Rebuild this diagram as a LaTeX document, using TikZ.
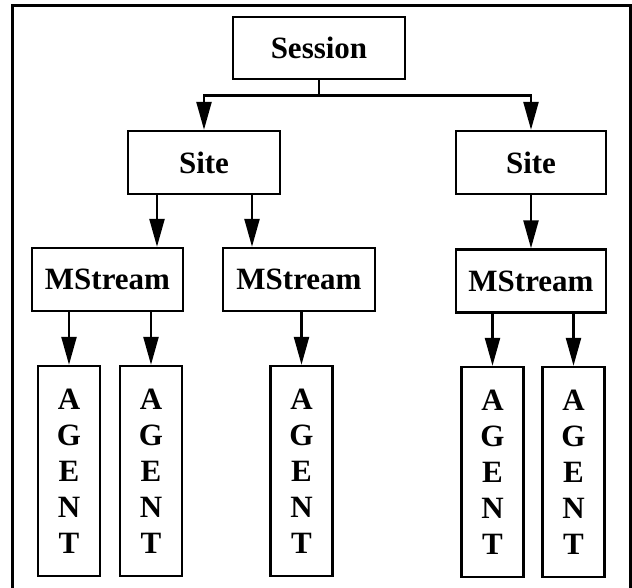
\documentclass[tikz,border=0pt]{standalone}
\usepackage{fontspec}
\setmainfont{Liberation Serif}
\usetikzlibrary{arrows.meta}
\begin{document}
\begin{tikzpicture}[x=1pt,y=-1pt,
  box/.style={draw,line width=2.4pt,inner sep=0pt,font=\fontsize{31}{36}\selectfont\bfseries},
  agentbox/.style={box,minimum width=62pt,minimum height=210pt,align=center},
  arr/.style={line width=2.4pt,-{Triangle[length=28pt 0 0,width=15pt 0 0]}},
  conn/.style={line width=2.4pt}]
\useasboundingbox (0,0) rectangle (632,588);
\fill[white] (0,0) rectangle (632,588);
\draw[line width=2.4pt] (12.5,590) -- (12.5,5.5) -- (630.5,5.5) -- (630.5,590);

\node[box,minimum width=172pt,minimum height=62pt] (session) at (319,48) {Session};
\node[box,minimum width=152pt,minimum height=63pt] (siteL) at (204,162.5) {Site};
\node[box,minimum width=150pt,minimum height=63pt] (siteR) at (531,162.5) {Site};
\node[box,minimum width=151pt,minimum height=63pt] (ms1) at (107.5,279.5) {MStream};
\node[box,minimum width=152pt,minimum height=63pt] (ms2) at (299,279.5) {MStream};
\node[box,minimum width=150pt,minimum height=63pt] (ms3) at (531,281) {MStream};

\node[agentbox] (ag1) at (69,471) {A\\G\\E\\N\\T};
\node[agentbox] (ag2) at (151,471) {A\\G\\E\\N\\T};
\node[agentbox] (ag3) at (301.5,471) {A\\G\\E\\N\\T};
\node[agentbox] (ag4) at (492.5,472) {A\\G\\E\\N\\T};
\node[agentbox] (ag5) at (573.5,472) {A\\G\\E\\N\\T};

\draw[arr] (session.south) -- ++(0,15.5) -| (siteL.north);
\draw[arr] (session.south) -- ++(0,15.5) -| (siteR.north);

\draw[arr] ([xshift=-47pt]siteL.south) -- ([xshift=-47pt]siteL.south |- ms1.north);
\draw[arr] ([xshift=48pt]siteL.south) -- ([xshift=48pt]siteL.south |- ms2.north);
\draw[arr] (siteR.south) -- (ms3.north);

\draw[arr] (ag1.north |- ms1.south) -- (ag1.north);
\draw[arr] (ag2.north |- ms1.south) -- (ag2.north);
\draw[arr] (ag3.north |- ms2.south) -- (ag3.north);
\draw[arr] (ag4.north |- ms3.south) -- (ag4.north);
\draw[arr] (ag5.north |- ms3.south) -- (ag5.north);
\end{tikzpicture}
\end{document}
